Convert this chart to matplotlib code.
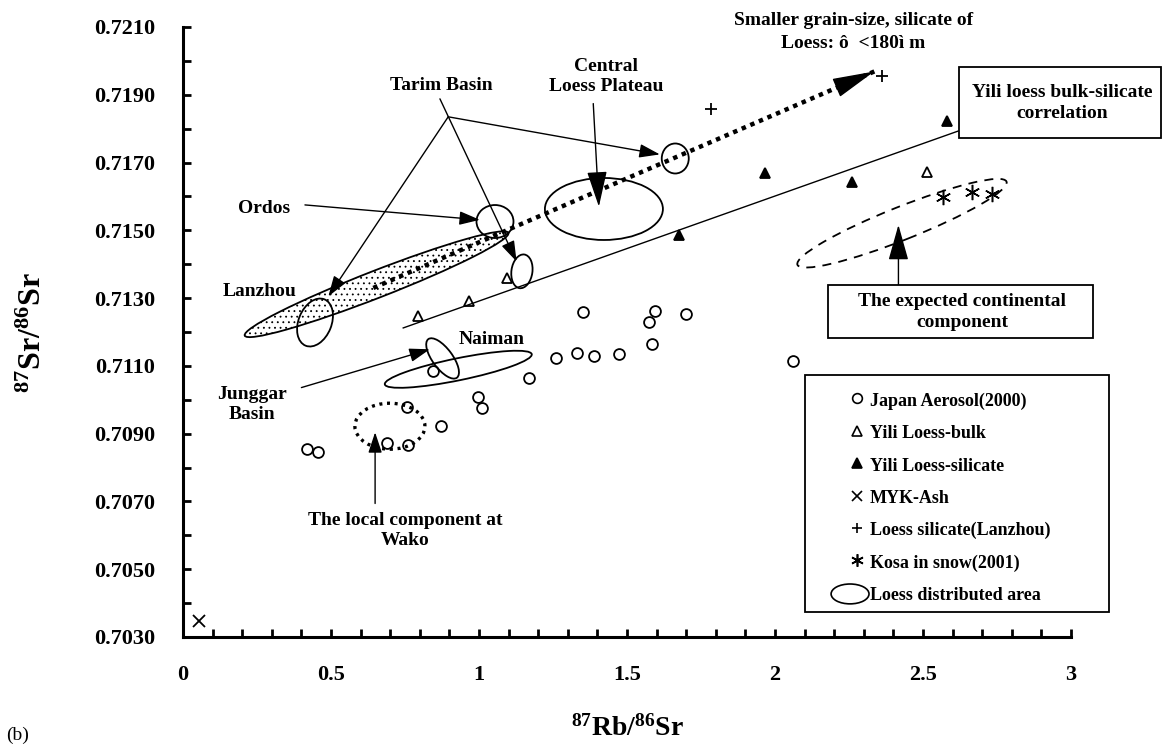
import matplotlib
matplotlib.use("Agg")
from matplotlib import pyplot as plt
from matplotlib import transforms
from matplotlib.lines import Line2D
from matplotlib.patches import Ellipse, Rectangle
from matplotlib.legend_handler import HandlerPatch
from matplotlib.ticker import MultipleLocator, FormatStrFormatter, FuncFormatter

plt.rcParams['font.family'] = ['Liberation Serif', 'DejaVu Serif']
plt.rcParams['font.weight'] = 'bold'
plt.rcParams['mathtext.fontset'] = 'custom'
plt.rcParams['mathtext.rm'] = 'Liberation Serif:bold'
plt.rcParams['mathtext.bf'] = 'Liberation Serif:bold'
plt.rcParams['hatch.linewidth'] = 0.6

# 87Rb/86Sr vs 87Sr/86Sr for each sample group
japan_rb = [0.420, 0.455, 0.690, 0.756, 0.759, 0.846, 0.872, 0.998, 1.009, 1.170,
            1.260, 1.330, 1.352, 1.390, 1.474, 1.575, 1.583, 1.595, 1.701, 2.062]
japan_sr = [0.70855, 0.70845, 0.70871, 0.70979, 0.70868, 0.71085, 0.70923, 0.71009, 0.70977, 0.71065,
            0.71122, 0.71137, 0.71259, 0.71129, 0.71136, 0.71230, 0.71165, 0.71263, 0.71254, 0.71114]

bulk_rb = [0.793, 0.966, 1.094, 2.515]
bulk_sr = [0.71247, 0.71291, 0.71358, 0.71673]

silicate_rb = [1.676, 1.966, 2.261, 2.580]
silicate_sr = [0.71487, 0.71668, 0.71642, 0.71822]

myk_rb = [0.054]
myk_sr = [0.70348]

lanzhou_rb = [1.783, 2.360]
lanzhou_sr = [0.71857, 0.71955]

kosa_rb = [2.569, 2.665, 2.732]
kosa_sr = [0.71597, 0.71614, 0.71606]

# Yili loess bulk-silicate correlation
corr_rb = [0.744, 2.619]
corr_sr = [0.71212, 0.71793]

# grain-size trend (dotted arrow)
trend_rb = [0.643, 2.344]
trend_sr = [0.71330, 0.71972]

y_ticks = [0.7030, 0.7050, 0.7070, 0.7090, 0.7110, 0.7130, 0.7150, 0.7170, 0.7190, 0.7210]

fig = plt.figure(figsize=(11.62, 7.51), dpi=100)
ax = fig.add_axes([183 / 1162, 114 / 751, 888 / 1162, 610 / 751])

ax.set_xlim(0, 3)
ax.set_ylim(0.7030, 0.7210)
ax.spines['top'].set_visible(False)
ax.spines['right'].set_visible(False)
for s in ('left', 'bottom'):
    ax.spines[s].set_linewidth(2.2)

ax.xaxis.set_major_locator(MultipleLocator(0.5))
ax.xaxis.set_minor_locator(MultipleLocator(0.1))
ax.set_yticks(y_ticks)
ax.yaxis.set_minor_locator(MultipleLocator(0.001))
ax.yaxis.set_major_formatter(FormatStrFormatter('%.4f'))
ax.xaxis.set_major_formatter(FuncFormatter(lambda v, p: '%g' % v))
ax.tick_params(which='both', direction='in', width=2.0, length=5.5)
ax.tick_params(axis='x', which='major', pad=20, labelsize=16)
ax.tick_params(axis='y', which='major', pad=20, labelsize=16)

ax.set_xlabel(r'$\mathbf{^{87}Rb/^{86}Sr}$', fontsize=20, labelpad=22)
ax.set_ylabel(r'$\mathbf{^{87}Sr/^{86}Sr}$', fontsize=23, labelpad=33)

mk = dict(ls='none', mec='k', mew=1.3, clip_on=False)
ax.plot(japan_rb, japan_sr, marker='o', mfc='none', ms=7.8, **mk)
ax.plot(bulk_rb, bulk_sr, marker='^', mfc='none', ms=7.5, **mk)
ax.plot(silicate_rb, silicate_sr, marker='^', mfc='k', ms=7.5, **mk)
ax.plot(myk_rb, myk_sr, marker='x', ms=8, **mk)
ax.plot(lanzhou_rb, lanzhou_sr, marker='+', ms=8, **mk)
ax.plot(kosa_rb, kosa_sr, marker=(6, 2, 0), ms=11, **dict(mk, mew=1.1))

ax.plot(corr_rb, corr_sr, color='k', lw=1.0, clip_on=False)
ax.plot(trend_rb, trend_sr, color='k', lw=3.2, ls=(0, (1, 1.1)), dash_capstyle='butt')
ax.annotate('', xy=(trend_rb[1], trend_sr[1]),
            xytext=(trend_rb[1] - 0.12, trend_sr[1] - 0.00045),
            arrowprops=dict(arrowstyle='-|>,head_length=1.5,head_width=0.35',
                            color='k', lw=1.0, mutation_scale=18))


def blob(cx, cy, w, h, ang=0, **kw):
    # ellipse centred on a data point, sized in inches on the page
    tr = fig.dpi_scale_trans + transforms.ScaledTranslation(cx, cy, ax.transData)
    kw.setdefault('lw', 1.3)
    e = Ellipse((0, 0), w, h, angle=ang, transform=tr, fill=False, ec='k', **kw)
    ax.add_patch(e)
    return e


blob(0.654, 0.71341, 2.83, 0.27, 21.3, hatch='...')
blob(0.446, 0.71228, 0.50, 0.33, 68)
blob(1.054, 0.71526, 0.37, 0.33)
blob(1.145, 0.71379, 0.34, 0.21, 82)
blob(1.663, 0.71712, 0.27, 0.30)
blob(1.422, 0.71563, 1.18, 0.62)
blob(0.930, 0.71090, 1.50, 0.22, 11.6)
blob(0.877, 0.71122, 0.48, 0.20, -53.5)
blob(0.699, 0.70922, 0.70, 0.46, lw=2.4, ls=(0, (0.9, 1.4)))
blob(2.429, 0.71521, 2.25, 0.33, 21.7, ls=(0, (5, 4)))

arrow = dict(arrowstyle='-|>,head_length=0.9,head_width=0.3', color='k', lw=1.0,
             mutation_scale=14, shrinkA=0, shrinkB=0)
tfont = dict(fontsize=14, ha='center', va='center')

ax.text(0.872, 0.71926, 'Tarim Basin', **tfont)
apex = (0.896, 0.71835)
ax.annotate('', xy=(0.491, 0.71305), xytext=apex, arrowprops=arrow)
ax.annotate('', xy=(1.611, 0.71724), xytext=apex, arrowprops=arrow)
ax.annotate('', xy=(1.127, 0.71408), xytext=(0.868, 0.71888), arrowprops=arrow)

ax.text(0.274, 0.71564, 'Ordos', **tfont)
ax.annotate('', xy=(1.003, 0.71531), xytext=(0.412, 0.71575), arrowprops=arrow)

ax.text(1.429, 0.71955, 'Central\nLoess Plateau', linespacing=1.25, **tfont)
ax.annotate('', xy=(1.405, 0.71570), xytext=(1.386, 0.71874),
            arrowprops=dict(arrow, arrowstyle='-|>,head_length=1.6,head_width=0.45'))

ax.text(0.260, 0.71320, 'Lanzhou', **tfont)
ax.text(1.043, 0.71179, 'Naiman', **tfont)

ax.text(0.233, 0.70985, 'Junggar\nBasin', linespacing=1.25, **tfont)
ax.annotate('', xy=(0.834, 0.71149), xytext=(0.400, 0.71036), arrowprops=arrow)

ax.text(0.750, 0.70615, 'The local component at\nWako', linespacing=1.25, **tfont)
ax.annotate('', xy=(0.649, 0.70904), xytext=(0.649, 0.70694), arrowprops=arrow)

ax.text(2.264, 0.72085, 'Smaller grain-size, silicate of\nLoess: \u00f4  <180\u00ec m',
        linespacing=1.5, clip_on=False, **tfont)

# boxed labels on the right
for x0, y0, w, h in [(959, 67, 202, 71), (828, 285, 265, 53)]:
    fig.add_artist(Rectangle((x0 / 1162, 1 - (y0 + h) / 751), w / 1162, h / 751,
                             transform=fig.transFigure, fc='white', ec='k', lw=1.3))
fig.text(1062 / 1162, 1 - 103 / 751, 'Yili loess bulk-silicate\ncorrelation',
         linespacing=1.35, **tfont)
fig.text(962 / 1162, 1 - 312 / 751, 'The expected continental\ncomponent',
         linespacing=1.3, **tfont)
ax.annotate('', xy=(2.417, 0.71516), xytext=(2.417, 0.71335),
            arrowprops=dict(arrow, arrowstyle='-|>,head_length=1.6,head_width=0.45'))

fig.text(18 / 1162, 1 - 735 / 751, '(b)', fontsize=14, fontweight='normal',
         ha='center', va='center')


class HandlerEllipse(HandlerPatch):
    # ellipse wider than the handle box, right-aligned against the label
    def create_artists(self, legend, orig_handle, xdescent, ydescent,
                       width, height, fontsize, trans):
        w_e, h_e = 2.1 * fontsize, 1.1 * fontsize
        center = width - xdescent - 0.5 * w_e, 0.5 * height - ydescent
        p = Ellipse(xy=center, width=w_e, height=h_e)
        self.update_prop(p, orig_handle, legend)
        p.set_transform(trans)
        return [p]


lm = dict(ls='none', mec='k', mew=1.2, ms=7)
handles = [
    Line2D([], [], marker='o', mfc='none', **lm),
    Line2D([], [], marker='^', mfc='none', **lm),
    Line2D([], [], marker='^', mfc='k', **lm),
    Line2D([], [], marker='x', **lm),
    Line2D([], [], marker='+', **lm),
    Line2D([], [], marker=(6, 2, 0), **dict(lm, ms=9)),
    Ellipse((0, 0), 1, 1, fill=False, ec='k', lw=1.2),
]
labels = ['Japan Aerosol(2000)', 'Yili Loess-bulk', 'Yili Loess-silicate', 'MYK-Ash',
          'Loess silicate(Lanzhou)', 'Kosa in snow(2001)', 'Loess distributed area']
leg = ax.legend(handles, labels, handler_map={Ellipse: HandlerEllipse()},
                loc='upper left', bbox_to_anchor=(845 / 1162, 1 - 391 / 751),
                bbox_transform=fig.transFigure, fontsize=13, frameon=False,
                handlelength=1.33, handleheight=1.1, handletextpad=0.05,
                labelspacing=0.75, borderpad=0, borderaxespad=0)
fig.add_artist(Rectangle((805 / 1162, 1 - 612 / 751), 304 / 1162, 237 / 751,
                         transform=fig.transFigure, fill=False, ec='k', lw=1.3))

fig.savefig('out.png', dpi=100)
